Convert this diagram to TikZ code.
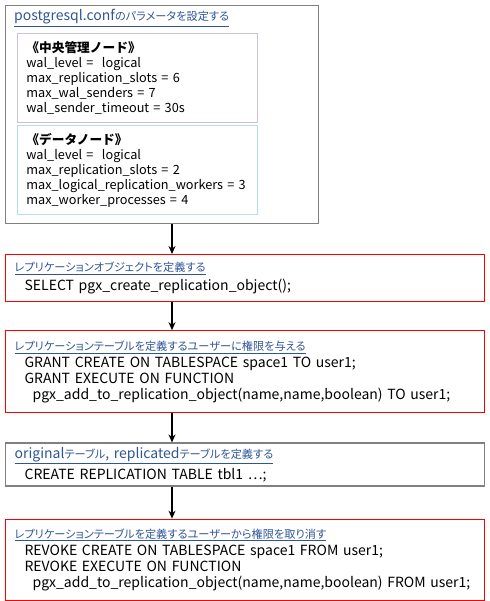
\documentclass[tikz,border=0pt]{standalone}
\usepackage{fontspec}
\setmainfont{Noto Sans CJK JP}
\newfontfamily\jp{Noto Sans CJK JP}[Scale=0.8, RawFeature=+palt]
\usetikzlibrary{positioning, arrows.meta}
\definecolor{hdrblue}{HTML}{2F5597}
\definecolor{cmnline}{HTML}{CCC0DA}
\definecolor{dtnline}{HTML}{B7DEE8}
\newcommand{\hdr}[1]{\textcolor{hdrblue}{\underline{#1}}}
\newcommand{\ind}{\hspace*{10pt}}
\newcommand{\indd}{\hspace*{18pt}}

\begin{document}
\begin{tikzpicture}[x=1pt, y=-1pt, >={Stealth[length=8pt, width=7pt]},
    graybox/.style={draw=black!50, line width=1.2pt, anchor=north west, align=left,
      inner xsep=9pt, inner ysep=0pt, text width=461pt,
      font=\fontsize{14}{16}\selectfont},
    redbox/.style={graybox, draw=red},
    nodebox/.style={draw, line width=0.8pt, anchor=north west, align=left,
      inner xsep=9pt, inner ysep=0pt, text width=222pt, minimum height=89pt,
      font=\fontsize{12.7}{15}\selectfont}]
  \useasboundingbox (0,0) rectangle (489,601);
  % postgresql.conf
  \node[draw=black!50, line width=1.2pt, anchor=north west, minimum width=313pt,
        minimum height=218pt, inner sep=0pt] (conf) at (5,5) {};
  \node[anchor=west, inner sep=0pt, font=\fontsize{14}{16}\selectfont] (conftitle) at (14,18)
    {\hdr{postgresql.conf{\jp のパラメータを設定する}}};
  \node[nodebox, draw=cmnline] (cmn) at (17,33)
    {\textbf{《中央管理ノード》}\\
     wal\_level =\ \ logical\\
     max\_replication\_slots = 6\\
     max\_wal\_senders = 7\\
     wal\_sender\_timeout = 30s};
  \node[nodebox, draw=dtnline] (dtn) at (17,125)
    {\textbf{《データノード》}\\
     wal\_level =\ \ logical\\
     max\_replication\_slots = 2\\
     max\_logical\_replication\_workers = 3\\
     max\_worker\_processes = 4};
  % steps
  \node[redbox, minimum height=47pt] (obj) at (5,254)
    {\hdr{\jp レプリケーションオブジェクトを定義する}\\[3pt]
     \ind SELECT pgx\_create\_replication\_object();};
  \node[redbox, minimum height=82pt, below=28pt of obj.south west, anchor=north west] (grant)
    {\hdr{\jp レプリケーションテーブルを定義するユーザーに権限を与える}\\[1pt]
     \ind GRANT CREATE ON TABLESPACE space1 TO user1;\\
     \ind GRANT EXECUTE ON FUNCTION\\
     \indd pgx\_add\_to\_replication\_object(name,name,boolean) TO user1;\\[15pt]};
  \node[graybox, minimum height=43pt, below=29pt of grant.south west, anchor=north west] (tbl)
    {\hdr{original{\jp テーブル}, replicated{\jp テーブルを定義する}}\\[3pt]
     \ind CREATE REPLICATION TABLE tbl1 ⋯;};
  \node[redbox, minimum height=81pt, below=32pt of tbl.south west, anchor=north west] (revoke)
    {\hdr{\jp レプリケーションテーブルを定義するユーザーから権限を取り消す}\\[1pt]
     \ind REVOKE CREATE ON TABLESPACE space1 FROM user1;\\
     \ind REVOKE EXECUTE ON FUNCTION\\
     \indd pgx\_add\_to\_replication\_object(name,name,boolean) FROM user1;\\[15pt]};
  % arrows
  \coordinate (ax) at (172,0);
  \draw[->, line width=1.2pt] (conf.south -| ax) -- (obj.north -| ax);
  \draw[->, line width=1.2pt] (obj.south -| ax) -- (grant.north -| ax);
  \draw[->, line width=1.2pt] (grant.south -| ax) -- (tbl.north -| ax);
  \draw[->, line width=1.2pt] (tbl.south -| ax) -- (revoke.north -| ax);
\end{tikzpicture}
\end{document}
